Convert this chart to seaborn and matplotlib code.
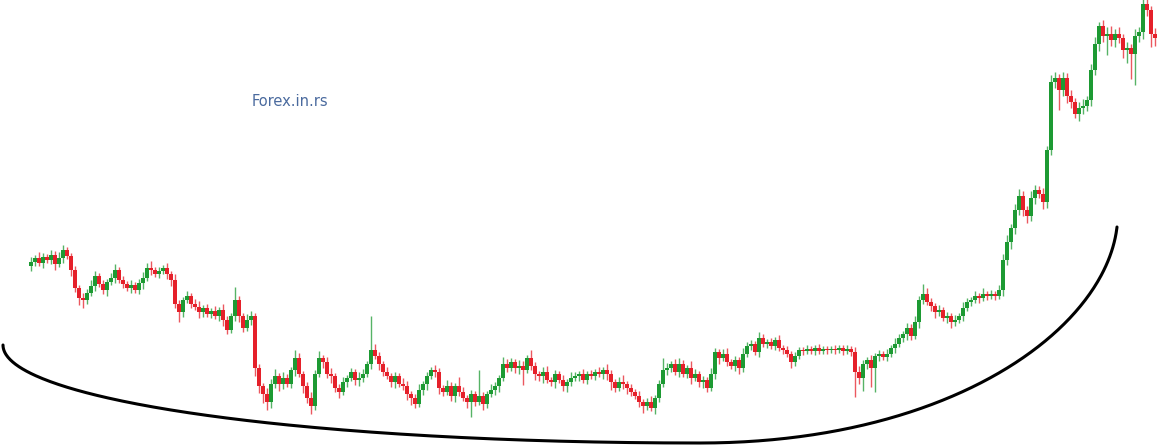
import numpy as np
import pandas as pd
import matplotlib
matplotlib.use("Agg")
import matplotlib.pyplot as plt
import seaborn as sns

# ---- data (price units) ----
first_open = 180
closes = [
    184,188,183,189,186,191,182,188,196,190,176,158,148,146,153,160,170,162,156,164,
    168,176,166,162,158,161,156,163,168,178,176,172,175,178,172,166,142,134,146,150,
    142,139,134,138,132,135,130,136,126,116,130,146,130,118,126,130,78,60,52,44,
    62,70,62,68,62,76,88,72,60,48,40,72,88,84,72,70,58,54,64,68,
    74,66,68,72,82,96,90,82,74,70,64,70,62,60,52,48,42,56,62,70,
    76,74,58,54,60,50,60,54,48,44,52,44,50,42,52,56,60,68,82,78,
    84,78,80,76,88,80,72,70,74,66,64,72,66,60,64,68,70,72,66,72,
    70,74,72,76,72,64,58,64,62,58,54,50,44,40,44,38,48,62,76,78,
    82,74,82,72,78,68,72,64,66,58,72,94,88,92,84,80,86,78,92,100,
    102,94,108,102,104,100,106,98,96,92,84,90,96,95,97,95,98,95,97,96,
    97,96,98,95,97,94,74,68,82,86,78,90,92,89,92,98,102,108,112,118,
    110,124,146,152,144,140,134,136,128,130,124,126,130,138,144,146,150,148,152,150,
    152,150,156,186,204,218,236,250,236,230,248,256,252,244,296,364,368,356,368,350,
    344,332,338,340,346,376,402,420,410,412,406,412,408,396,398,392,410,414,442,436,412,408,
]
wick_up = [
    5,3,6,4,3,5,4,6,5,3,3,4,3,5,4,6,5,3,4,3,
    5,6,3,4,3,5,3,4,6,5,7,3,4,3,5,3,6,4,3,5,
    3,5,6,3,4,3,5,3,6,4,3,13,4,3,6,5,3,4,3,6,
    5,7,3,6,4,3,8,5,3,4,6,4,7,3,5,6,3,4,5,3,
    4,3,6,5,3,34,6,4,3,5,3,4,3,6,5,3,4,6,3,4,
    3,5,4,3,6,4,3,9,5,3,4,3,26,4,3,6,4,3,7,5,
    4,3,6,5,3,8,4,3,5,6,3,4,3,5,3,6,4,3,5,3,
    4,3,5,3,6,4,3,5,7,3,4,3,5,3,4,6,3,4,12,5,
    3,5,6,4,3,7,5,3,4,3,6,4,3,5,6,3,4,3,6,4,
    4,3,6,4,3,4,3,5,3,4,3,4,3,3,4,3,3,4,3,3,
    3,4,3,3,4,3,5,6,4,3,5,3,4,3,5,3,6,4,3,5,
    4,6,4,10,6,4,3,5,3,4,3,5,3,6,4,3,5,3,6,3,
    4,3,5,6,7,4,6,7,5,4,7,5,4,6,4,7,6,4,6,5,
    6,4,6,7,4,6,7,4,6,7,8,5,7,4,6,4,7,5,5,6,4,6,
]
wick_down = [
    5,4,3,5,3,4,6,3,5,3,6,4,7,8,4,3,5,3,4,6,
    3,5,3,4,3,5,3,4,6,3,5,3,4,3,5,6,4,10,5,3,
    4,3,6,5,3,4,3,5,6,4,3,5,6,4,3,5,8,7,9,8,
    6,4,7,5,3,4,6,3,7,5,8,4,3,6,4,7,4,6,3,5,
    3,5,6,4,3,5,3,6,4,3,5,6,3,4,6,7,4,3,5,6,
    3,5,6,4,3,5,6,4,3,6,15,4,3,6,4,3,5,6,3,4,
    3,5,6,15,3,4,6,5,7,3,4,6,3,5,6,4,3,5,3,4,
    3,4,3,5,6,8,4,3,5,6,4,3,5,7,4,3,6,4,3,5,
    4,3,5,3,4,6,3,5,6,4,3,5,6,3,4,3,5,6,4,3,
    4,3,5,3,4,3,4,3,4,3,6,4,3,4,3,3,4,3,3,4,
    3,4,3,4,3,4,25,6,13,5,19,24,5,3,4,3,5,3,4,6,
    4,3,6,4,3,5,6,4,3,5,6,4,3,5,3,4,3,5,3,4,
    3,4,3,6,5,7,6,5,6,7,5,6,4,7,6,5,6,20,6,7,
    6,4,7,6,5,6,5,7,6,19,6,7,5,8,13,25,31,6,7,6,13,8,
]
# hand-drawn rounding-bottom arc: two cubic Bezier segments (candle index, price)
arc_seg1 = [(-7.0, 101), (-7.0, 46), (67.25, 3), (167.25, 3)]
arc_seg2 = [(167.25, 3), (229.75, 3), (268.5, 116), (271.5, 219)]
watermark = "Forex.in.rs"

# ---- build OHLC table ----
n = min(len(closes), len(wick_up), len(wick_down))
close = np.array(closes[:n], dtype=float)
opens = np.concatenate([[first_open], close[:-1]])
hi = np.maximum(opens, close) + np.array(wick_up[:n])
lo = np.minimum(opens, close) - np.array(wick_down[:n])
df = pd.DataFrame({"i": np.arange(n), "open": opens, "high": hi,
                   "low": lo, "close": close})

GREEN = "#1d9a33"
RED = "#e5202a"
df["color"] = np.where(df["close"] >= df["open"], GREEN, RED)

sns.set_theme(style="white")
fig = plt.figure(figsize=(11.59, 4.46), dpi=100)
ax = fig.add_axes([0, 0, 1, 1])

# wicks
ax.vlines(df["i"], df["low"], df["high"], colors=df["color"], linewidth=1.0,
          alpha=0.75, zorder=2)
# bodies
body_h = np.maximum((df["close"] - df["open"]).abs(), 1.5)
body_b = np.minimum(df["open"], df["close"])
ax.bar(df["i"], body_h, bottom=body_b, width=0.8, color=df["color"],
       linewidth=0, zorder=3)


def bezier(ctrl, m=200):
    c = np.array(ctrl, dtype=float)
    t = np.linspace(0, 1, m)[:, None]
    return ((1 - t) ** 3 * c[0] + 3 * (1 - t) ** 2 * t * c[1]
            + 3 * (1 - t) * t ** 2 * c[2] + t ** 3 * c[3])


pts = np.vstack([bezier(arc_seg1), bezier(arc_seg2)[1:]])
arc_df = pd.DataFrame({"x": pts[:, 0], "y": pts[:, 1]})
sns.lineplot(data=arc_df, x="x", y="y", sort=False, color="black",
             linewidth=2.2, ax=ax, zorder=4)
ax.set_axis_off()

ax.text(64.75, 345, watermark, color="#4a6a9e", fontsize=10.5,
        ha="center", va="center", family="DejaVu Sans")

ax.set_xlim(-7.75, -7.75 + 1159 / 4)
ax.set_ylim(0, 446)
fig.savefig("out.png", dpi=100, facecolor="white")
